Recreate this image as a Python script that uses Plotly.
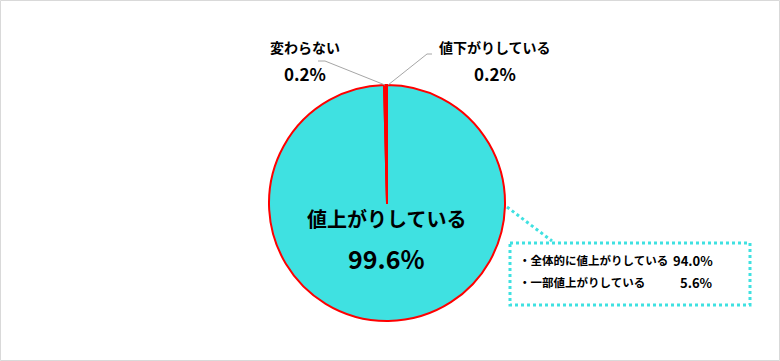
import plotly.graph_objects as go

categories = ["値上がりしている", "変わらない", "値下がりしている"]
values = [99.6, 0.2, 0.2]
breakdown_labels = ["全体的に値上がりしている", "一部値上がりしている"]
breakdown_values = [94.0, 5.6]

W, H = 780, 361
TURQ = "#3FE1E1"
FONT = "Noto Sans CJK JP"


def px(x, y):
    return x / W, 1 - y / H


fig = go.Figure()
fig.add_trace(go.Pie(
    labels=categories,
    values=values,
    sort=False,
    direction="clockwise",
    rotation=0,
    marker=dict(colors=[TURQ, "#FF0000", "#FF0000"], line=dict(color="#FF0000", width=2)),
    textinfo="none",
    hoverinfo="label+percent",
    showlegend=False,
    domain=dict(x=[268 / W, 506 / W], y=[1 - 321 / H, 1 - 85 / H]),
))

annotations = []


def add_text(x, y, text, size, xanchor="center"):
    ax, ay = px(x, y)
    annotations.append(dict(
        x=ax, y=ay, xref="paper", yref="paper", text=text, showarrow=False,
        xanchor=xanchor, yanchor="middle",
        font=dict(family=FONT, size=size, color="#000000", weight="bold"),
    ))


# main slice label
add_text(386, 218, categories[0], 20)
add_text(386, 258, f"{values[0]:.1f}%", 25)
# small slices
add_text(305, 47, categories[1], 14)
add_text(305, 73, f"{values[1]:.1f}%", 17)
add_text(495, 47, categories[2], 14)
add_text(495, 73, f"{values[2]:.1f}%", 17)
# breakdown box text
for i, (lab, val) in enumerate(zip(breakdown_labels, breakdown_values)):
    yy = 260 + i * 22
    add_text(517, yy, "・" + lab, 11.5, xanchor="left")
    add_text(715, yy, f"{val:.1f}%", 13, xanchor="right")

shapes = []


def line(points, color, width, dash="solid"):
    path = "M " + " L ".join(f"{px(x, y)[0]},{px(x, y)[1]}" for x, y in points)
    shapes.append(dict(type="path", path=path, xref="paper", yref="paper",
                       line=dict(color=color, width=width, dash=dash)))


# leader lines
line([(318, 61), (325, 61), (385, 85)], "#A6A6A6", 1)
line([(432, 54), (427, 54), (388, 85)], "#A6A6A6", 1)
# dotted connector and box
line([(507, 207), (552, 241)], TURQ, 3, "dot")
x0, y0 = px(510, 243)
x1, y1 = px(750, 305)
shapes.append(dict(type="rect", xref="paper", yref="paper", x0=x0, y0=y0, x1=x1, y1=y1,
                   line=dict(color=TURQ, width=3, dash="dot"), fillcolor="rgba(0,0,0,0)"))
# outer frame
shapes.append(dict(type="rect", xref="paper", yref="paper", x0=0.5 / W, y0=0.5 / H,
                   x1=1 - 0.5 / W, y1=1 - 0.5 / H, line=dict(color="#D9D9D9", width=1)))

fig.update_layout(
    width=W, height=H,
    margin=dict(l=0, r=0, t=0, b=0),
    paper_bgcolor="white", plot_bgcolor="white",
    annotations=annotations, shapes=shapes,
)

fig.write_html(
    "out.html",
    config={"displayModeBar": False},
    post_script="document.body.style.margin='0';document.body.style.overflow='hidden';",
)
